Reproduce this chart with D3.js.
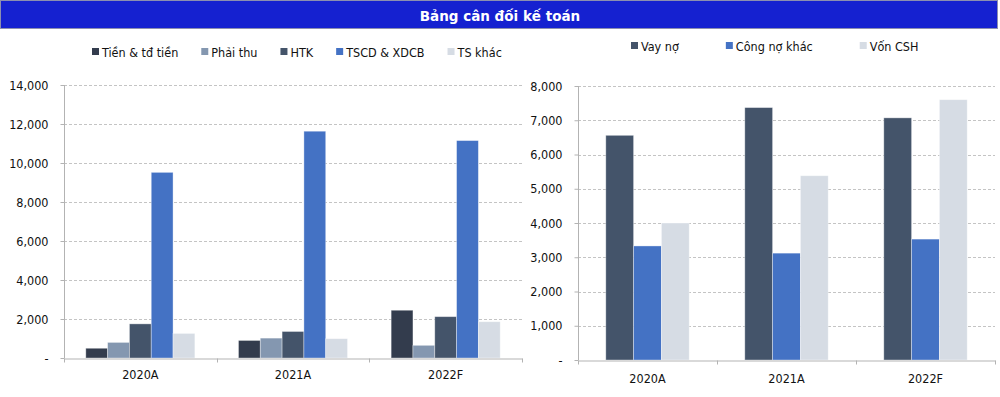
<!DOCTYPE html>
<html>
<head>
<meta charset="utf-8">
<script src="https://cdn.jsdelivr.net/npm/d3@7"></script>
<style>
  body { margin: 0; background: #fff; }
  svg text { font-family: "DejaVu Sans Condensed", "DejaVu Sans", sans-serif; font-stretch: condensed; fill: #111; }
</style>
</head>
<body>
<div class="container"></div>
<script>
// du lieu
const years = ['2020A', '2021A', '2022F']

const assetNames = ['Tiền & tđ tiền', 'Phải thu', 'HTK', 'TSCD & XDCB', 'TS khác']
const tienValues = [500, 900, 2450]
const phaiThuValues = [800, 1020, 650]
const htkValues = [1750, 1360, 2120]
const tscdValues = [9520, 11630, 11150]
const tsKhacValues = [1260, 990, 1860]
const assetTicks = [0, 2000, 4000, 6000, 8000, 10000, 12000, 14000]

const sourceNames = ['Vay nợ', 'Công nợ khác', 'Vốn CSH']
const vayNoValues = [6560, 7370, 7070]
const congNoValues = [3330, 3120, 3530]
const vonCshValues = [4000, 5380, 7600]
const sourceTicks = [0, 1000, 2000, 3000, 4000, 5000, 6000, 7000, 8000]

const title = 'Bảng cân đối kế toán'

const w = 1000
const h = 397

const svg = d3.select('.container')
              .append('svg')
              .attr('width', w)
              .attr('height', h)

// tieu de
svg.append('rect')
   .attr('x', 0.5).attr('y', 0.5)
   .attr('width', 997).attr('height', 28)
   .attr('fill', '#1521d0')
   .attr('stroke', '#8c8fb0')
svg.append('text')
   .attr('x', 500).attr('y', 21)
   .attr('text-anchor', 'middle')
   .style('font-family', '"DejaVu Sans", sans-serif')
   .style('font-stretch', 'normal')
   .style('font-weight', 'bold')
   .style('font-size', '13.5px')
   .style('fill', '#fff')
   .text(title)

function drawChart(cfg) {
  const g = svg.append('g')
  const rows = years.map((y, i) => ({
    year: y,
    vals: cfg.names.map((n, k) => ({ name: n, value: cfg.series[k][i], color: cfg.colors[k] }))
  }))

  const x0 = d3.scaleBand().domain(years).range([cfg.left, cfg.right]).padding(0)
  const x1 = d3.scaleBand().domain(cfg.names).range([0, x0.bandwidth()]).paddingInner(0).paddingOuter(1)
  const y = d3.scaleLinear().domain([0, d3.max(cfg.ticks)]).range([cfg.bottom, cfg.top])

  // luoi
  g.append('g')
   .selectAll('line')
   .data(cfg.ticks.filter(d => d > 0))
   .enter()
   .append('line')
   .attr('x1', cfg.left).attr('x2', cfg.right)
   .attr('y1', d => Math.round(y(d)) + 0.5).attr('y2', d => Math.round(y(d)) + 0.5)
   .attr('stroke', '#c4c4c4')
   .attr('stroke-dasharray', '3,2')

  // cot
  g.append('g')
   .selectAll('g')
   .data(rows)
   .enter()
   .append('g')
   .attr('transform', d => 'translate(' + x0(d.year) + ',0)')
   .selectAll('rect')
   .data(d => d.vals)
   .enter()
   .append('rect')
   .attr('x', d => x1(d.name))
   .attr('width', x1.bandwidth())
   .attr('y', d => y(d.value))
   .attr('height', d => cfg.bottom - y(d.value))
   .attr('fill', d => d.color)
   .attr('stroke', '#ffffff')
   .attr('stroke-opacity', 0.45)
   .attr('stroke-width', 0.8)

  // truc y
  const yAxis = d3.axisLeft(y)
                  .tickValues(cfg.ticks)
                  .tickSize(4)
                  .tickPadding(12)
                  .tickFormat(d => d === 0 ? '-' : d3.format(',')(d))
  const ya = g.append('g')
              .attr('transform', 'translate(' + (cfg.left + 0.5) + ',0)')
              .call(yAxis)
  ya.select('.domain').attr('stroke', '#b3b3b3').attr('d', 'M0,' + cfg.top + 'V' + cfg.bottom)
  ya.selectAll('.tick line').attr('stroke', '#b3b3b3')
  ya.selectAll('text').style('font-size', '12.5px').style('fill', '#111')

  // truc x
  const xa = g.append('g')
              .attr('transform', 'translate(0,' + (cfg.bottom + 0.5) + ')')
              .call(d3.axisBottom(x0).tickSize(0).tickPadding(cfg.labelPad))
  xa.select('.domain').attr('stroke', '#b3b3b3')
  xa.selectAll('text').style('font-size', '12.5px').style('fill', '#111')
  xa.selectAll('.bound')
    .data(years.map(d => x0(d)).concat([x0.range()[1]]))
    .enter()
    .append('line')
    .attr('class', 'bound')
    .attr('x1', d => Math.round(d) + 0.5).attr('x2', d => Math.round(d) + 0.5)
    .attr('y1', 0).attr('y2', 4)
    .attr('stroke', '#b3b3b3')

  // chu giai
  const lg = g.append('g').attr('transform', 'translate(' + cfg.legendX + ',' + cfg.legendY + ')')
  let lx = 0
  cfg.names.forEach((n, k) => {
    lg.append('rect')
      .attr('x', lx).attr('y', -4)
      .attr('width', 7).attr('height', 7)
      .attr('fill', cfg.colors[k])
    const t = lg.append('text')
                .attr('x', lx + 10).attr('y', 4.5)
                .style('font-size', '12.5px')
                .text(n)
    lx += 10 + t.node().getComputedTextLength() + cfg.legendGap
  })
}

drawChart({
  names: assetNames,
  series: [tienValues, phaiThuValues, htkValues, tscdValues, tsKhacValues],
  colors: ['#333c4d', '#8497b0', '#44546a', '#4472c4', '#d6dce4'],
  ticks: assetTicks,
  left: 64, right: 522, top: 85, bottom: 358,
  labelPad: 12,
  legendX: 92, legendY: 52, legendGap: 23
})

drawChart({
  names: sourceNames,
  series: [vayNoValues, congNoValues, vonCshValues],
  colors: ['#44546a', '#4472c4', '#d6dce4'],
  ticks: sourceTicks,
  left: 578, right: 995, top: 86, bottom: 360,
  labelPad: 14,
  legendX: 631, legendY: 46, legendGap: 47
})
</script>
</body>
</html>
